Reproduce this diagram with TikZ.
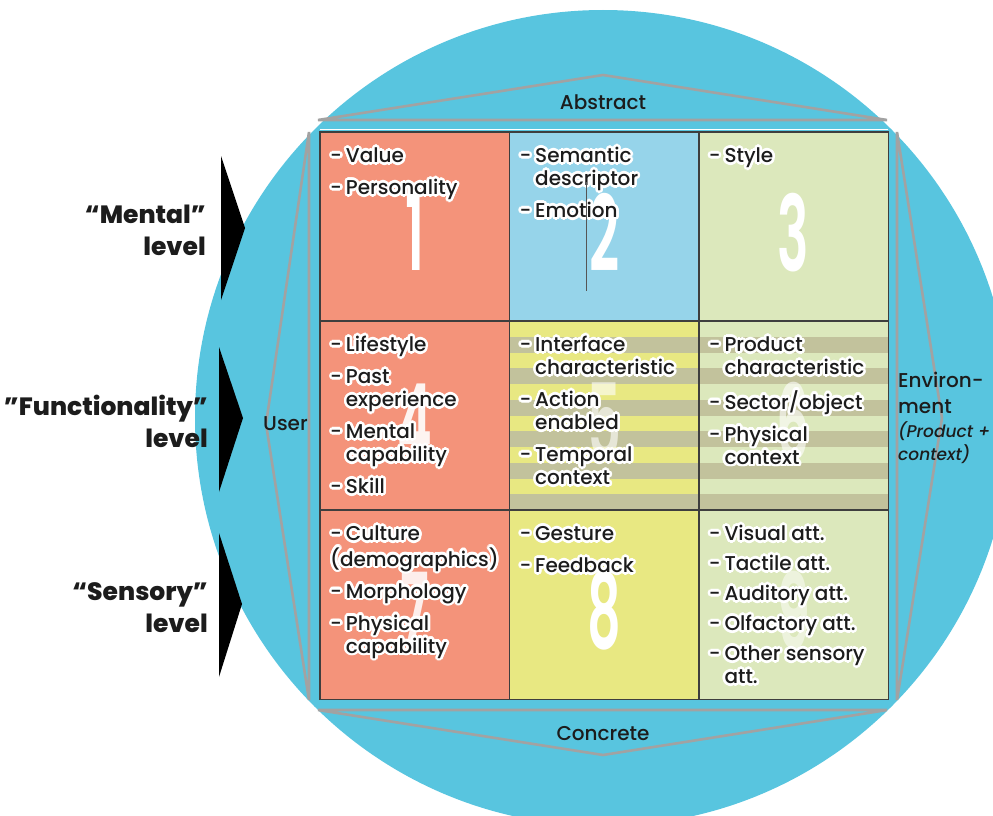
\documentclass[tikz,border=0pt]{standalone}
\usepackage{fontspec}
\setmainfont{Poppins}[UprightFont=* Medium, ItalicFont=* Medium Italic, BoldFont=* SemiBold]
\newfontfamily\heavyfont{Poppins ExtraBold}
\definecolor{discblue}{HTML}{58C5DF}
\definecolor{salmon}{HTML}{F4937A}
\definecolor{skyblue}{HTML}{96D4EA}
\definecolor{palegreen}{HTML}{DCE8BC}
\definecolor{lemon}{HTML}{E8E882}
\definecolor{olive}{HTML}{C2C29C}
\definecolor{rulegray}{HTML}{A2A2A2}
\definecolor{ink}{HTML}{1C1C1C}
\newcommand\halo[1]{\leavevmode\rlap{\color{white}\foreach \ang in {0,22.5,...,337.5}{\pgfmathsetlengthmacro\hx{2.6pt*cos(\ang)}\pgfmathsetlengthmacro\hy{2.6pt*sin(\ang)}\rlap{\kern\hx\raisebox{\hy}{#1}}}}#1}
\newcommand\cellnote[1]{\halo{\begin{tabular}[t]{@{}l@{\hspace{4pt}}l@{}}#1\end{tabular}}}
\tikzset{
	cell/.style={draw=none, minimum width=189.3pt, minimum height=189pt, inner sep=0pt, anchor=north west},
	gridline/.style={draw=ink!85, line width=1.2pt},
	bigdigit/.style={white, font=\fontsize{105}{105}\selectfont\bfseries, inner sep=0pt},
	note/.style={text=ink, font=\fontsize{20}{23}\selectfont, inner sep=0pt, anchor=base west},
	guide/.style={draw=rulegray, line width=2.6pt, line join=miter},
	levelarrow/.style={fill=black, draw=none},
	levelname/.style={text=ink, font=\fontsize{25}{32}\selectfont\heavyfont, align=right, inner sep=0pt, anchor=east},
	side/.style={text=ink, font=\fontsize{20}{23}\selectfont, inner sep=0pt}
}
\begin{document}
\begin{tikzpicture}[x=1pt,y=-1pt]
	\useasboundingbox (0,0) rectangle (993,816);
	\clip (0,0) rectangle (993,816);
	% disc
	\fill[discblue] (603,418) circle[radius=408pt];
	% level arrows
	\fill[levelarrow] (221,156) -- (245,228) -- (221,300) -- cycle;
	\fill[levelarrow] (219,347) -- (243,418) -- (219,492) -- cycle;
	\fill[levelarrow] (219,533) -- (242,604) -- (219,677) -- cycle;
	% guide triangles
	\draw[guide] (318,120) -- (603,75) -- (887,120) -- cycle;
	\draw[guide] (318,710) -- (603,755) -- (887,710) -- cycle;
	\draw[guide] (309,132) -- (266,424) -- (309,700) -- cycle;
	\draw[guide] (897,132) -- (942,418) -- (897,700) -- cycle;
	% cells
	\node[cell, fill=salmon] (c1) at (320,132) {};
	\node[cell, fill=skyblue] (c2) at (509.3,132) {};
	\node[cell, fill=palegreen] (c3) at (698.6,132) {};
	\node[cell, fill=salmon] (c4) at (320,321) {};
	\node[cell, fill=lemon] (c5) at (509.3,321) {};
	\node[cell, fill=palegreen] (c6) at (698.6,321) {};
	\node[cell, fill=salmon] (c7) at (320,510) {};
	\node[cell, fill=lemon] (c8) at (509.3,510) {};
	\node[cell, fill=palegreen] (c9) at (698.6,510) {};
	\foreach \i in {1,3,...,11}
		\fill[olive] (509.3,{321+15.75*\i}) rectangle (887.9,{321+15.75*(\i+1)});
	\foreach \n in {1,...,9}
		\draw[gridline] (c\n.north west) rectangle (c\n.south east);
	\draw[white, line width=1.8pt] ([yshift=2.5pt]c1.north west) -- ([yshift=2.5pt]c3.north east);
	% numbers
	\foreach \n/\o in {1/1,2/1,3/1,4/0.9,5/0.6,6/0.6,7/0.85,8/1,9/0.5}
		\node[bigdigit, text opacity=\o] (d\n) at ([yshift=-5.5pt]c\n.center) {\scalebox{0.5}[1]{\n}};
	% cell texts
	\node[note] (t1) at ([xshift=10pt,yshift=-30.5pt]c1.north west) {\cellnote{-&Value\\[9pt]-&Personality}};
	\node[note] (t2) at ([xshift=10pt,yshift=-30.5pt]c2.north west) {\cellnote{-&Semantic\\&descriptor\\[9pt]-&Emotion}};
	\node[note] (t3) at ([xshift=10pt,yshift=-30.5pt]c3.north west) {\cellnote{-&Style}};
	\node[note] (t4) at ([xshift=10pt,yshift=-30.5pt]c4.north west) {\cellnote{-&Lifestyle\\[9pt]-&Past\\&experience\\[9pt]-&Mental\\&capability\\[9pt]-&Skill}};
	\node[note] (t5) at ([xshift=10pt,yshift=-30.5pt]c5.north west) {\cellnote{-&Interface\\&characteristic\\[9pt]-&Action\\&enabled\\[9pt]-&Temporal\\&context}};
	\node[note] (t6) at ([xshift=10pt,yshift=-30.5pt]c6.north west) {\cellnote{-&Product\\&characteristic\\[9pt]-&Sector/object\\[9pt]-&Physical\\&context}};
	\node[note] (t7) at ([xshift=10pt,yshift=-30.5pt]c7.north west) {\cellnote{-&Culture\\\multicolumn{2}{@{}l@{}}{(demographics)}\\[9pt]-&Morphology\\[9pt]-&Physical\\&capability}};
	\node[note] (t8) at ([xshift=10pt,yshift=-30.5pt]c8.north west) {\cellnote{-&Gesture\\[9pt]-&Feedback}};
	\node[note] (t9) at ([xshift=10pt,yshift=-30.5pt]c9.north west) {\cellnote{-&Visual att.\\[7pt]-&Tactile att.\\[7pt]-&Auditory att.\\[7pt]-&Olfactory att.\\[7pt]-&Other sensory\\&att.}};
	\draw[ink!75, line width=1pt] (586,182) -- (586,291);
	% side labels
	\node[side, anchor=base] (abstract) at (603,109) {Abstract};
	\node[side, anchor=base] (concrete) at (603,740) {Concrete};
	\node[side, anchor=base west] (user) at (263,430) {User};
	\node[side, anchor=base west] (env1) at (898,387) {Environ-};
	\node[side, anchor=base west] (env2) at (898,413) {ment};
	\node[side, anchor=base west, font=\fontsize{17}{20}\selectfont\itshape] (env3) at (898,437) {(Product +};
	\node[side, anchor=base west, font=\fontsize{17}{20}\selectfont\itshape] (env4) at (898,460) {context)};
	% level names
	\node[levelname] (mental) at (206,230) {“Mental”\\level};
	\node[levelname] (function) at (208,421) {”Functionality”\\level};
	\node[levelname] (sensory) at (208,608) {“Sensory”\\level};
\end{tikzpicture}
\end{document}
